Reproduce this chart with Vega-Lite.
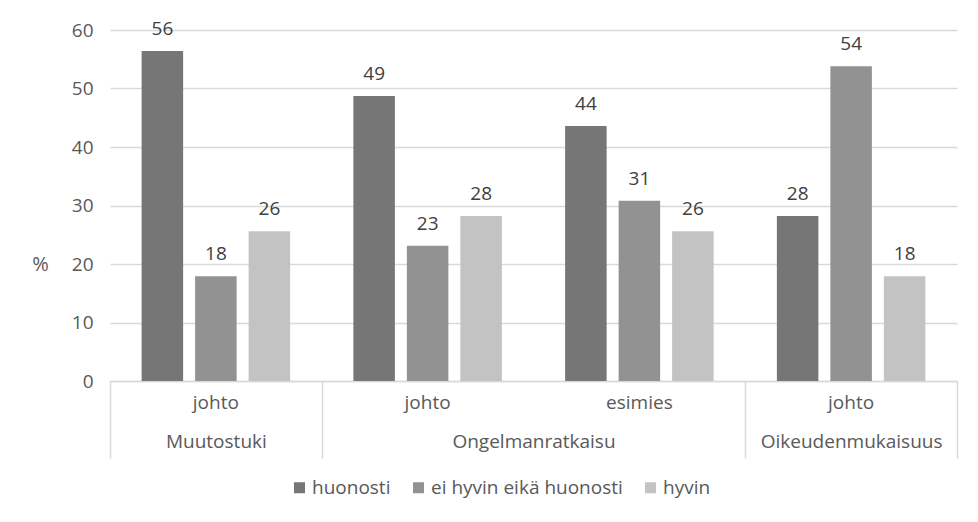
{
  "$schema": "https://vega.github.io/schema/vega-lite/v6.json",
  "width": 847,
  "height": 351,
  "autosize": {"type": "none"},
  "padding": {"left": 110, "top": 30, "right": 21, "bottom": 141},
  "background": "white",
  "config": {
    "font": "Open Sans",
    "view": {"stroke": null},
    "axis": {"labelColor": "#595959", "labelFontSize": 19, "labelLimit": 0, "titleColor": "#595959", "titleFontWeight": "normal"},
    "legend": {"labelColor": "#595959", "labelFontSize": 19}
  },
  "datasets": {
    "bars": [
      {"key": "Muutostuki|johto", "series": "huonosti", "ord": 1, "value": 56.4},
      {"key": "Muutostuki|johto", "series": "ei hyvin eikä huonosti", "ord": 2, "value": 17.9},
      {"key": "Muutostuki|johto", "series": "hyvin", "ord": 3, "value": 25.6},
      {"key": "Ongelmanratkaisu|johto", "series": "huonosti", "ord": 1, "value": 48.7},
      {"key": "Ongelmanratkaisu|johto", "series": "ei hyvin eikä huonosti", "ord": 2, "value": 23.1},
      {"key": "Ongelmanratkaisu|johto", "series": "hyvin", "ord": 3, "value": 28.2},
      {"key": "Ongelmanratkaisu|esimies", "series": "huonosti", "ord": 1, "value": 43.6},
      {"key": "Ongelmanratkaisu|esimies", "series": "ei hyvin eikä huonosti", "ord": 2, "value": 30.8},
      {"key": "Ongelmanratkaisu|esimies", "series": "hyvin", "ord": 3, "value": 25.6},
      {"key": "Oikeudenmukaisuus|johto", "series": "huonosti", "ord": 1, "value": 28.2},
      {"key": "Oikeudenmukaisuus|johto", "series": "ei hyvin eikä huonosti", "ord": 2, "value": 53.8},
      {"key": "Oikeudenmukaisuus|johto", "series": "hyvin", "ord": 3, "value": 17.9}
    ],
    "groups": [
      {"group": "Muutostuki", "mid": 0.5},
      {"group": "Ongelmanratkaisu", "mid": 2},
      {"group": "Oikeudenmukaisuus", "mid": 3.5}
    ]
  },
  "layer": [
    {
      "data": {"name": "bars"},
      "mark": {"type": "bar"},
      "encoding": {
        "x": {
          "field": "key", "type": "nominal",
          "sort": ["Muutostuki|johto", "Ongelmanratkaisu|johto", "Ongelmanratkaisu|esimies", "Oikeudenmukaisuus|johto"],
          "scale": {"paddingInner": 0, "paddingOuter": 0},
          "axis": {
            "orient": "bottom", "title": null, "labelAngle": 0, "ticks": false,
            "domainColor": "#d9d9d9", "domainWidth": 1.5,
            "labelPadding": 12,
            "labelExpr": "split(datum.value, '|')[1]"
          }
        },
        "xOffset": {
          "field": "series", "type": "nominal",
          "sort": ["huonosti", "ei hyvin eikä huonosti", "hyvin"],
          "scale": {"paddingInner": 0.224, "paddingOuter": 0.591}
        },
        "y": {
          "field": "value", "type": "quantitative",
          "scale": {"domain": [0, 60], "nice": false},
          "axis": {
            "values": [0, 10, 20, 30, 40, 50, 60],
            "title": "%", "titleAngle": 0, "titleFontSize": 20,
            "titleX": -70, "titleY": 234, "titleAlign": "center", "titleBaseline": "middle",
            "domain": false, "ticks": false, "labelPadding": 17,
            "gridColor": "#d9d9d9", "gridWidth": 1.5
          }
        },
        "color": {
          "field": "series", "type": "nominal",
          "scale": {"domain": ["huonosti", "ei hyvin eikä huonosti", "hyvin"], "range": ["#767676", "#929292", "#c3c3c3"]},
          "legend": {
            "title": null, "orient": "none", "direction": "horizontal",
            "legendX": 180, "legendY": 448, "padding": 0,
            "symbolType": "square", "symbolSize": 121, "symbolStrokeWidth": 0,
            "labelOffset": 3, "columnPadding": 18, "labelLimit": 0
          }
        }
      }
    },
    {
      "data": {"name": "bars"},
      "mark": {"type": "text", "fontSize": 19, "color": "#404040", "baseline": "middle", "dy": -22},
      "encoding": {
        "x": {
          "field": "key", "type": "nominal",
          "sort": ["Muutostuki|johto", "Ongelmanratkaisu|johto", "Ongelmanratkaisu|esimies", "Oikeudenmukaisuus|johto"],
          "scale": {"paddingInner": 0, "paddingOuter": 0},
          "axis": null
        },
        "xOffset": {
          "field": "series", "type": "nominal",
          "sort": ["huonosti", "ei hyvin eikä huonosti", "hyvin"],
          "scale": {"paddingInner": 0.224, "paddingOuter": 0.591}
        },
        "y": {"field": "value", "type": "quantitative"},
        "text": {"field": "value", "type": "quantitative", "format": ".0f"}
      }
    },
    {
      "data": {"name": "groups"},
      "mark": {"type": "point", "opacity": 0},
      "encoding": {
        "x": {
          "field": "mid", "type": "quantitative",
          "scale": {"domain": [0, 4], "nice": false, "zero": false},
          "axis": {
            "orient": "bottom", "title": null, "domain": false, "grid": false,
            "values": [0, 0.5, 1, 2, 3, 3.5, 4],
            "tickSize": 77, "tickColor": "#d9d9d9", "tickWidth": 1.5,
            "tickOpacity": {"condition": {"test": "datum.value == 0 || datum.value == 1 || datum.value == 3 || datum.value == 4", "value": 1}, "value": 0},
            "labelPadding": -26, "labelFlush": false, "labelOverlap": false,
            "labelExpr": "datum.value == 0.5 ? 'Muutostuki' : datum.value == 2 ? 'Ongelmanratkaisu' : datum.value == 3.5 ? 'Oikeudenmukaisuus' : ''"
          }
        }
      }
    }
  ],
  "resolve": {"scale": {"x": "independent"}, "axis": {"x": "independent"}}
}
